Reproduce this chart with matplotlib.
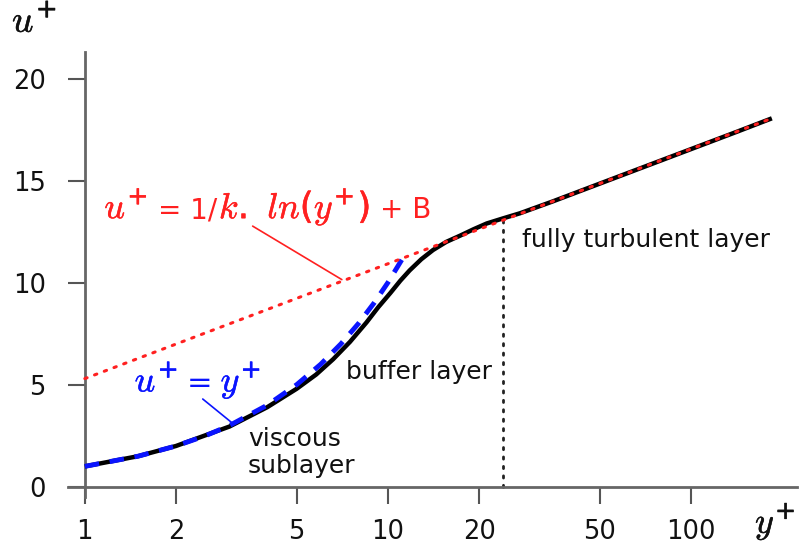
import matplotlib
matplotlib.use("Agg")
import matplotlib.pyplot as plt
import matplotlib.patheffects as pe
from matplotlib.transforms import offset_copy

plt.rcParams["mathtext.fontset"] = "custom"
plt.rcParams["mathtext.rm"] = "DejaVu Sans"
plt.rcParams["mathtext.it"] = "cmmi10"
plt.rcParams["mathtext.bf"] = "DejaVu Sans:bold"

# ---- data ----
# mean velocity profile (black)
yp_profile = [1.0, 1.5, 2.0, 3.0, 4.0, 5.0, 5.8, 6.6, 7.5, 8.5, 9.3, 10.2, 11.0,
              11.8, 12.9, 14.1, 15.6, 17.3, 19.2, 21.2, 24.0, 27.3, 35.0, 50.0,
              70.0, 100.0, 140.0, 185.0]
up_profile = [1.0, 1.5, 2.0, 2.95, 3.9, 4.8, 5.5, 6.25, 7.1, 8.05, 8.8, 9.5, 10.1,
              10.6, 11.15, 11.6, 12.0, 12.3, 12.62, 12.9, 13.15, 13.4, 13.98, 14.85,
              15.67, 16.54, 17.36, 18.05]
# viscous sublayer law u+ = y+ (blue dashed)
yp_visc = [1.0, 1.5, 2.0, 2.5, 3.0, 4.0, 5.0, 6.0, 7.0, 8.0, 9.0, 10.0, 11.2]
up_visc = [1.0, 1.5, 2.0, 2.5, 3.0, 4.0, 5.0, 6.0, 7.0, 8.0, 9.0, 10.0, 11.2]
# log law (red dotted), straight on log axis
yp_log = [1.0, 185.0]
up_log = [5.3, 18.05]
# boundary of fully turbulent layer
yp_boundary = 24.0
up_boundary_top = 13.1

xticks = [1, 2, 5, 10, 20, 50, 100]
xticklabels = ["1", "2", "5", "10", "20", "50", "100"]
yticks = [0, 5, 10, 15, 20]

RED = "#ff2020"
BLUE = "#0a14ff"
INK = "#111111"
MATH = 26
SANS = 20
STROKE = 0.35

fig = plt.figure(figsize=(7.99, 5.47), dpi=100)
ax = fig.add_axes([68/799, 1-497/547, (797-68)/799, (497-52)/547])
ax.set_xscale("log")
ax.set_xlim(0.88, 224)
ax.set_ylim(-0.5, 21.3)

ax.plot(yp_profile, up_profile, color="black", lw=3.2, solid_capstyle="butt",
        solid_joinstyle="round", zorder=3)
ax.plot(yp_visc, up_visc, color=BLUE, lw=3.5, ls=(0, (3, 2.2)), zorder=4)
ax.plot(yp_log, up_log, color=RED, lw=2.2, ls=(0, (0.8, 2.6)),
        dash_capstyle="round", zorder=5)
ax.plot([yp_boundary, yp_boundary], [0, up_boundary_top], color="#222222",
        lw=2, ls=(0, (0.8, 2.6)), dash_capstyle="round", zorder=2)

for s in ["top", "right"]:
    ax.spines[s].set_visible(False)
ax.spines["left"].set_position(("data", 1))
ax.spines["bottom"].set_position(("data", 0))
for s in ["left", "bottom"]:
    ax.spines[s].set_color("#666666")
    ax.spines[s].set_linewidth(2)

ax.set_xticks(xticks)
ax.set_xticklabels(xticklabels)
ax.xaxis.set_minor_locator(matplotlib.ticker.NullLocator())
ax.set_yticks(yticks)
ax.tick_params(axis="both", direction="out", length=12, width=1.5,
               color="#555555", labelsize=18.5, labelcolor=INK)
ax.tick_params(axis="x", pad=11)
ax.tick_params(axis="y", pad=16)

renderer = fig.canvas.get_renderer()


def rich_text(x, y, pieces, color, base_transform):
    """Place text pieces (or pixel gaps) one after another on one baseline."""
    dx = 0.0
    for piece in pieces:
        if isinstance(piece, (int, float)):
            dx += piece
            continue
        s, size, is_math = piece
        t = ax.text(x, y, s, fontsize=size, color=color, ha="left", va="baseline",
                    transform=offset_copy(base_transform, fig=fig, x=dx, y=0, units="dots"),
                    zorder=6)
        if is_math:
            t.set_path_effects([pe.withStroke(linewidth=STROKE, foreground=color)])
        dx += t.get_window_extent(renderer).width


rich_text(1.16, 13.15,
          [(r"$u^{+}$", MATH, True), 10, ("= 1/", SANS, False), 2, (r"$k.$", MATH, True),
           20, (r"$ln(y^{+})$", MATH, True), 10, ("+ B", SANS, False)],
          RED, ax.transData)
ax.annotate("", xy=(7.05, 10.15), xytext=(3.58, 12.77),
            arrowprops=dict(arrowstyle="-", color=RED, lw=1.2, shrinkA=0, shrinkB=0))

rich_text(1.46, 4.66,
          [(r"$u^{+}$", MATH, True), 9, ("=", SANS + 2, False), 8, (r"$y^{+}$", MATH, True)],
          BLUE, ax.transData)
ax.annotate("", xy=(3.08, 3.1), xytext=(2.45, 4.3),
            arrowprops=dict(arrowstyle="-", color=BLUE, lw=1.2, shrinkA=0, shrinkB=0))

ax.text(3.45, 0.45, "viscous\nsublayer", fontsize=18, color=INK,
        ha="left", va="bottom", linespacing=1.15)
ax.text(7.3, 5.6, "buffer layer", fontsize=18, color=INK,
        ha="left", va="center")
ax.text(27.7, 12.1, "fully turbulent layer", fontsize=18, color=INK,
        ha="left", va="center")

t = fig.text(12/799, 1-32/547, r"$u^{+}$", fontsize=27, ha="left", va="baseline", color=INK)
t.set_path_effects([pe.withStroke(linewidth=STROKE, foreground=INK)])
t = fig.text(755/799, 1-533/547, r"$y^{+}$", fontsize=26, ha="left", va="baseline", color=INK)
t.set_path_effects([pe.withStroke(linewidth=STROKE, foreground=INK)])

fig.savefig("out.png", dpi=100)
